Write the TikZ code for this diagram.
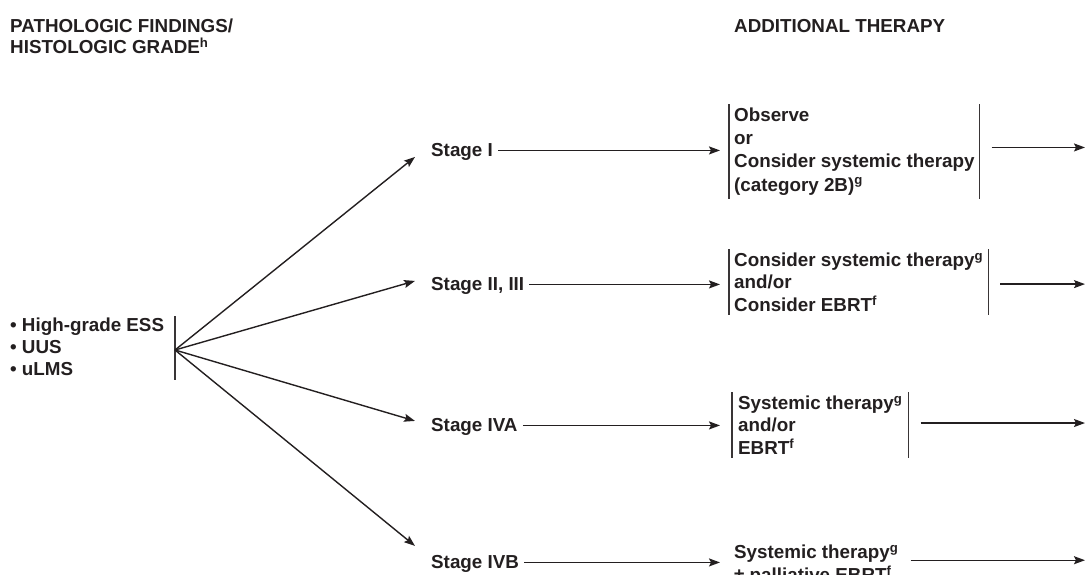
\documentclass[tikz,border=0pt]{standalone}
\usepackage{fontspec}
\setmainfont{Liberation Sans}
\usetikzlibrary{arrows.meta}
\definecolor{ink}{HTML}{231F20}

\begin{document}
\begin{tikzpicture}[x=1pt,y=-1pt,
    every node/.style={inner sep=0pt,text=ink,font=\fontsize{18.8}{22.5}\selectfont\bfseries},
    txt/.style={anchor=north west,align=left},
    stage/.style={anchor=base west},
    tbox/.style={anchor=north west,align=left,inner xsep=5pt,inner ysep=3.5pt},
    bar/.style={draw=ink!90,line width=1.4pt},
    arr/.style={draw=ink,line width=1.4pt,-{Stealth[length=11pt,width=8pt,inset=2pt]}}]
\useasboundingbox (0,0) rectangle (1085,574);

\node[txt,font=\fontsize{18.8}{21}\selectfont\bfseries] (hd1) at (10,19) {PATHOLOGIC FINDINGS/\\HISTOLOGIC GRADE\textsuperscript{h}};
\node[txt] (hd2) at (734,19) {ADDITIONAL THERAPY};

\node[txt,font=\fontsize{18.8}{22}\selectfont\bfseries] (grp) at (10,318) {• High-grade ESS\\• UUS\\• uLMS};
\coordinate (fan) at (175,350);
\draw[bar] ([yshift=34pt]fan) -- ([yshift=-30pt]fan);

\node[stage] (s1) at (431,156.5) {Stage I};
\node[stage] (s2) at (431,290.5) {Stage II, III};
\node[stage] (s3) at (431,431.5) {Stage IVA};
\node[stage] (s4) at (431,568.5) {Stage IVB};

\node[tbox,font=\fontsize{18.8}{23.3}\selectfont\bfseries] (b1) at (729,104) {Observe\\or\\Consider systemic therapy\\(category 2B)\textsuperscript{g}};
\node[tbox] (b2) at (729,249) {Consider systemic therapy\textsuperscript{g}\\and/or\\Consider EBRT\textsuperscript{f}};
\node[tbox,inner xsep=6pt] (b3) at (732,392) {Systemic therapy\textsuperscript{g}\\and/or\\EBRT\textsuperscript{f}};
\node[txt] (b4) at (734,545) {Systemic therapy\textsuperscript{g}\\± palliative EBRT\textsuperscript{f}};

\foreach \b in {b1,b2,b3}
  \draw[bar] (\b.north west) -- (\b.south west) (\b.north east) -- (\b.south east);

\coordinate (col) at (720,0);
\coordinate (edge) at (1085,0);
\foreach \i/\dy/\dz in {1/-5/4,2/5/-2,3/6/2,4/18/5} {
  \draw[arr] (fan) -- ([xshift=-16pt,yshift=\dy pt]s\i.west);
  \draw[arr,shorten <=5pt] ([yshift=1.5pt]s\i.east) -- ([yshift=1.5pt]s\i.east -| col);
  \draw[arr,shorten <=12pt] ([yshift=\dz pt]b\i.east) -- ([yshift=\dz pt]b\i.east -| edge);
}
\end{tikzpicture}
\end{document}
